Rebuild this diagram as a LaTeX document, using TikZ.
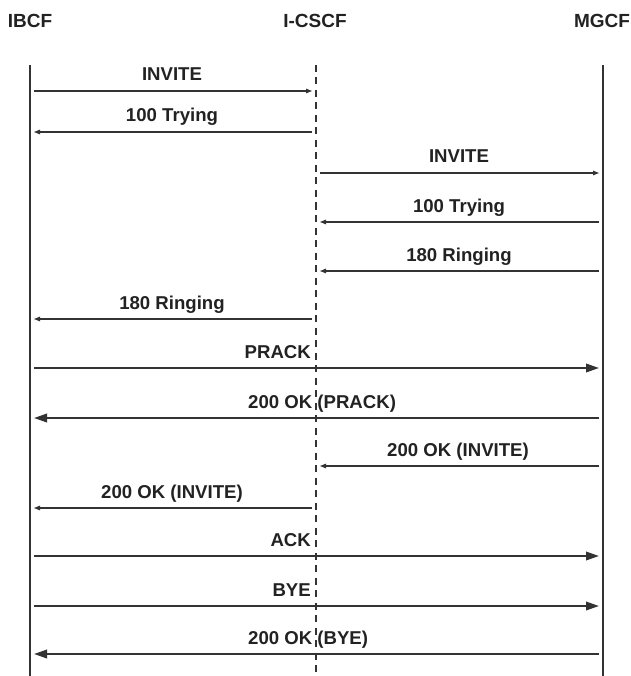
\documentclass[tikz,border=0pt]{standalone}
\usepackage{fontspec}
\setmainfont{Liberation Sans}
\usetikzlibrary{arrows.meta}
\definecolor{ink}{HTML}{222222}
\definecolor{wire}{HTML}{333333}
\tikzset{
  head/.style={font=\fontsize{19}{22}\selectfont\bfseries, text=ink, anchor=base, inner sep=0pt},
  lbl/.style={font=\fontsize{18.6}{21}\selectfont\bfseries, text=ink, anchor=base, inner sep=0pt},
  life/.style={draw=wire, line width=2pt},
  lifedash/.style={draw=wire, line width=2pt, dash pattern=on 7pt off 5.5pt},
  thinmsg/.style={draw=wire, line width=1.1pt, -{Triangle[length=6pt,width=4.5pt]}},
  thickmsg/.style={draw=wire, line width=2pt, -{Triangle[length=13pt,width=8.5pt]}}
}
\begin{document}
\begin{tikzpicture}[x=1pt,y=-1pt]
\useasboundingbox[fill=white] (0,0) rectangle (630,676);
% headers
\node[head] (hA) at (30,28) {IBCF};
\node[head] (hB) at (315,28) {I-CSCF};
\node[head] (hC) at (602,28) {MGCF};
% lifelines
\coordinate (aT) at (30,65);  \coordinate (aB) at (30,676);
\coordinate (bT) at (316,65); \coordinate (bB) at (316,676);
\coordinate (cT) at (603,65); \coordinate (cB) at (603,676);
\draw[life] (aT) -- (aB);
\draw[lifedash] (bT) -- (bB);
\draw[life] (cT) -- (cB);
% message end points: a = IBCF side, bl/br = I-CSCF left/right side, c = MGCF side
\foreach \n/\y in {1/91,2/132,3/173,4/222,5/271,6/319,7/368,8/418,9/466,10/508,11/556,12/606,13/654}{
  \coordinate (a\n) at (34,\y);
  \coordinate (bl\n) at (312,\y);
  \coordinate (br\n) at (320,\y);
  \coordinate (c\n) at (599,\y);
}
% messages
\draw[thinmsg] (a1) -- (bl1);
\node[lbl] (l1) at (172,81) {INVITE};
\draw[thinmsg] (bl2) -- (a2);
\node[lbl] (l2) at (172,122) {100 Trying};
\draw[thinmsg] (br3) -- (c3);
\node[lbl] (l3) at (459,163) {INVITE};
\draw[thinmsg] (c4) -- (br4);
\node[lbl] (l4) at (459,212) {100 Trying};
\draw[thinmsg] (c5) -- (br5);
\node[lbl] (l5) at (459,261) {180 Ringing};
\draw[thinmsg] (bl6) -- (a6);
\node[lbl] (l6) at (172,309) {180 Ringing};
\draw[thickmsg] (a7) -- (c7);
\node[lbl, anchor=base east] (l7) at (311,358) {PRACK};
\draw[thickmsg] (c8) -- (a8);
\node[lbl, anchor=base west] (l8) at (248,408) {200 OK (PRACK)};
\draw[thinmsg] (c9) -- (br9);
\node[lbl] (l9) at (458,456) {200 OK (INVITE)};
\draw[thinmsg] (bl10) -- (a10);
\node[lbl] (l10) at (172,498) {200 OK (INVITE)};
\draw[thickmsg] (a11) -- (c11);
\node[lbl, anchor=base east] (l11) at (311,546) {ACK};
\draw[thickmsg] (a12) -- (c12);
\node[lbl, anchor=base east] (l12) at (311,596) {BYE};
\draw[thickmsg] (c13) -- (a13);
\node[lbl, anchor=base west] (l13) at (248,644) {200 OK (BYE)};
\end{tikzpicture}
\end{document}
